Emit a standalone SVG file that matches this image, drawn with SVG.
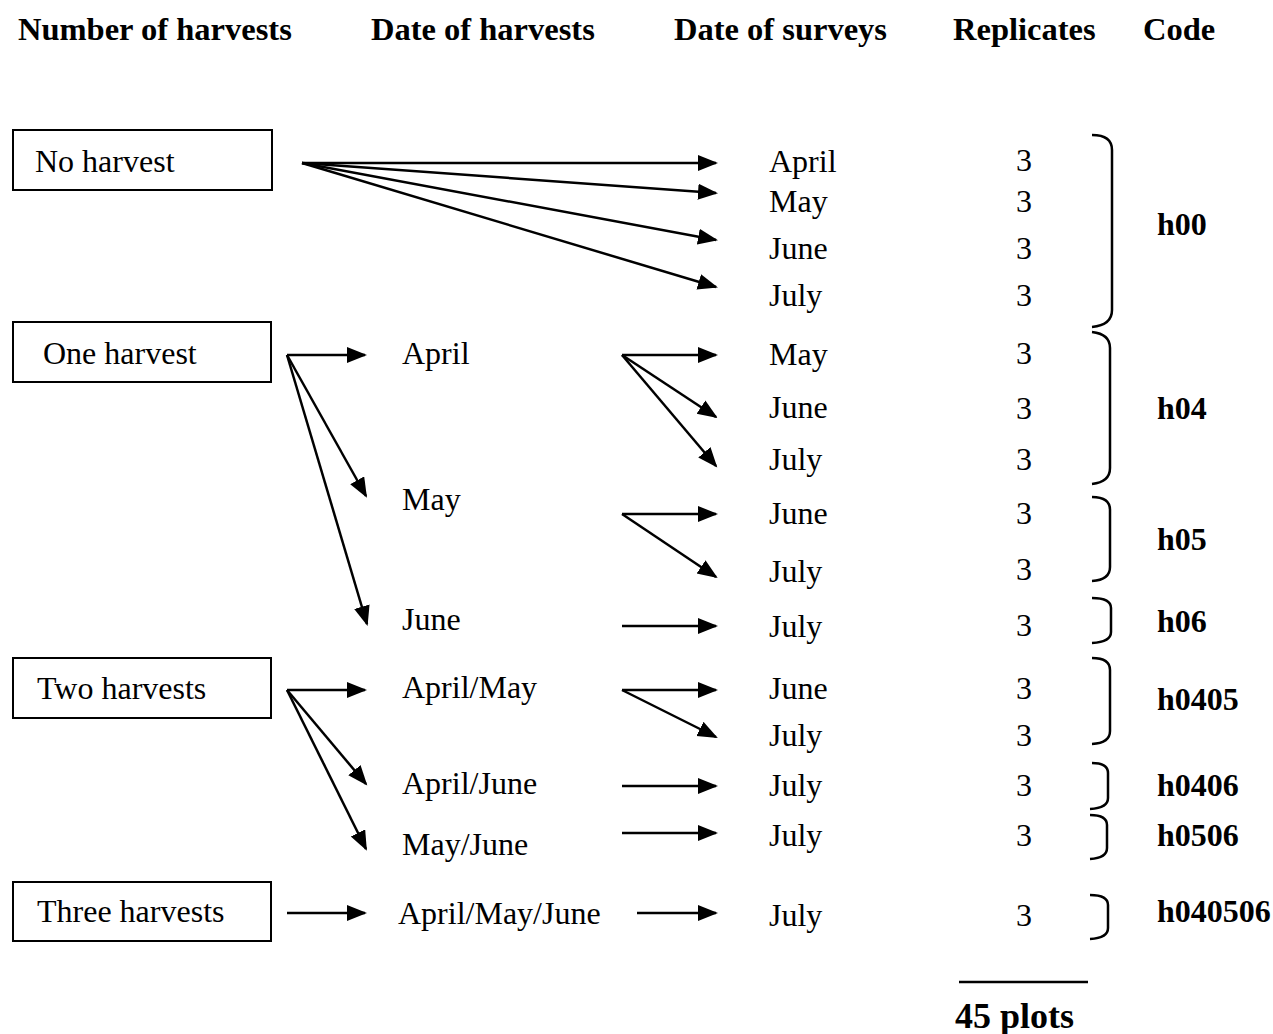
<svg xmlns="http://www.w3.org/2000/svg" width="1273" height="1034" viewBox="0 0 1273 1034">
<defs>
<marker id="ah" markerUnits="userSpaceOnUse" markerWidth="22" markerHeight="17" refX="18" refY="8" orient="auto">
<path d="M0,0 L20,8 L0,16 z" fill="#000"/>
</marker>
<style>
text{font-family:"Liberation Serif","Times New Roman",serif;fill:#000}
.h{font-size:32.5px;font-weight:bold}
.t{font-size:32px}
.c{font-size:32px;font-weight:bold}
.r{font-size:32px;text-anchor:middle}
.box{fill:#fff;stroke:#000;stroke-width:2}
.ar{stroke:#000;stroke-width:2.5;fill:none;marker-end:url(#ah)}
.br{stroke:#000;stroke-width:2.5;fill:none}
</style>
</defs>
<rect width="1273" height="1034" fill="#fff"/>
<g id="headers">
<text class="h" x="18" y="40">Number of harvests</text>
<text class="h" x="371" y="40">Date of harvests</text>
<text class="h" x="674" y="40">Date of surveys</text>
<text class="h" x="953" y="40">Replicates</text>
<text class="h" x="1143" y="40">Code</text>
</g>
<g id="n-none"><rect class="box" x="13" y="130" width="259" height="60"/><text class="t" x="35" y="172">No harvest</text></g>
<g id="n-one"><rect class="box" x="13" y="322" width="258" height="60"/><text class="t" x="43" y="364">One harvest</text></g>
<g id="n-two"><rect class="box" x="13" y="658" width="258" height="60"/><text class="t" x="37" y="699">Two harvests</text></g>
<g id="n-three"><rect class="box" x="13" y="882" width="258" height="59"/><text class="t" x="37" y="922">Three harvests</text></g>
<g id="harvest-dates">
<text class="t" x="402" y="364">April</text>
<text class="t" x="402" y="510">May</text>
<text class="t" x="402" y="630">June</text>
<text class="t" x="402" y="698">April/May</text>
<text class="t" x="402" y="794">April/June</text>
<text class="t" x="402" y="855">May/June</text>
<text class="t" x="398" y="924">April/May/June</text>
</g>
<g id="survey-dates">
<text class="t" x="769" y="172">April</text>
<text class="t" x="769" y="212">May</text>
<text class="t" x="769" y="259">June</text>
<text class="t" x="769" y="306">July</text>
<text class="t" x="769" y="365">May</text>
<text class="t" x="769" y="418">June</text>
<text class="t" x="769" y="470">July</text>
<text class="t" x="769" y="524">June</text>
<text class="t" x="769" y="582">July</text>
<text class="t" x="769" y="637">July</text>
<text class="t" x="769" y="699">June</text>
<text class="t" x="769" y="746">July</text>
<text class="t" x="769" y="796">July</text>
<text class="t" x="769" y="846">July</text>
<text class="t" x="769" y="926">July</text>
</g>
<g id="replicates">
<text class="r" x="1024" y="171">3</text>
<text class="r" x="1024" y="212">3</text>
<text class="r" x="1024" y="259">3</text>
<text class="r" x="1024" y="306">3</text>
<text class="r" x="1024" y="364">3</text>
<text class="r" x="1024" y="419">3</text>
<text class="r" x="1024" y="470">3</text>
<text class="r" x="1024" y="524">3</text>
<text class="r" x="1024" y="580">3</text>
<text class="r" x="1024" y="636">3</text>
<text class="r" x="1024" y="699">3</text>
<text class="r" x="1024" y="746">3</text>
<text class="r" x="1024" y="796">3</text>
<text class="r" x="1024" y="846">3</text>
<text class="r" x="1024" y="926">3</text>
</g>
<g id="braces">
<path class="br" d="M1092,135 Q1112,135 1112,150 V310 Q1112,325 1092,327"/>
<path class="br" d="M1092,332 Q1110,334 1110,348 V468 Q1110,482 1092,484"/>
<path class="br" d="M1092,497 Q1110,497 1110,510 V567 Q1110,580 1092,581"/>
<path class="br" d="M1092,598 Q1111,598 1111,608 V632 Q1111,642 1092,643"/>
<path class="br" d="M1092,658 Q1110,658 1110,670 V731 Q1110,743 1092,744"/>
<path class="br" d="M1092,763 Q1108,763 1108,773 V798 Q1108,808 1090,809"/>
<path class="br" d="M1090,815 Q1107,815 1107,825 V848 Q1107,858 1090,859"/>
<path class="br" d="M1090,895 Q1108,895 1108,905 V928 Q1108,938 1090,939"/>
</g>
<g id="codes">
<text class="c" x="1157" y="235">h00</text>
<text class="c" x="1157" y="419">h04</text>
<text class="c" x="1157" y="550">h05</text>
<text class="c" x="1157" y="632">h06</text>
<text class="c" x="1157" y="710">h0405</text>
<text class="c" x="1157" y="796">h0406</text>
<text class="c" x="1157" y="846">h0506</text>
<text class="c" x="1157" y="922">h040506</text>
</g>
<g id="connectors">
<line class="ar" x1="302" y1="163" x2="716" y2="163"/>
<line class="ar" x1="302" y1="163" x2="716" y2="193"/>
<line class="ar" x1="302" y1="163" x2="716" y2="240"/>
<line class="ar" x1="302" y1="163" x2="716" y2="287"/>
<line class="ar" x1="287" y1="355" x2="365" y2="355"/>
<line class="ar" x1="287" y1="355" x2="366" y2="496"/>
<line class="ar" x1="287" y1="355" x2="367" y2="624"/>
<line class="ar" x1="622" y1="355" x2="716" y2="355"/>
<line class="ar" x1="622" y1="355" x2="716" y2="417"/>
<line class="ar" x1="622" y1="355" x2="716" y2="466"/>
<line class="ar" x1="622" y1="514" x2="716" y2="514"/>
<line class="ar" x1="622" y1="514" x2="716" y2="577"/>
<line class="ar" x1="622" y1="626" x2="716" y2="626"/>
<line class="ar" x1="287" y1="690" x2="365" y2="690"/>
<line class="ar" x1="287" y1="690" x2="366" y2="784"/>
<line class="ar" x1="287" y1="690" x2="366" y2="849"/>
<line class="ar" x1="622" y1="690" x2="716" y2="690"/>
<line class="ar" x1="622" y1="690" x2="716" y2="737"/>
<line class="ar" x1="622" y1="786" x2="716" y2="786"/>
<line class="ar" x1="622" y1="833" x2="716" y2="833"/>
<line class="ar" x1="287" y1="913" x2="365" y2="913"/>
<line class="ar" x1="637" y1="913" x2="716" y2="913"/>
</g>
<g id="total">
<line x1="959" y1="982" x2="1088" y2="982" stroke="#000" stroke-width="2.5"/>
<text class="h" x="955" y="1028" style="font-size:36px">45 plots</text>
</g>
</svg>
